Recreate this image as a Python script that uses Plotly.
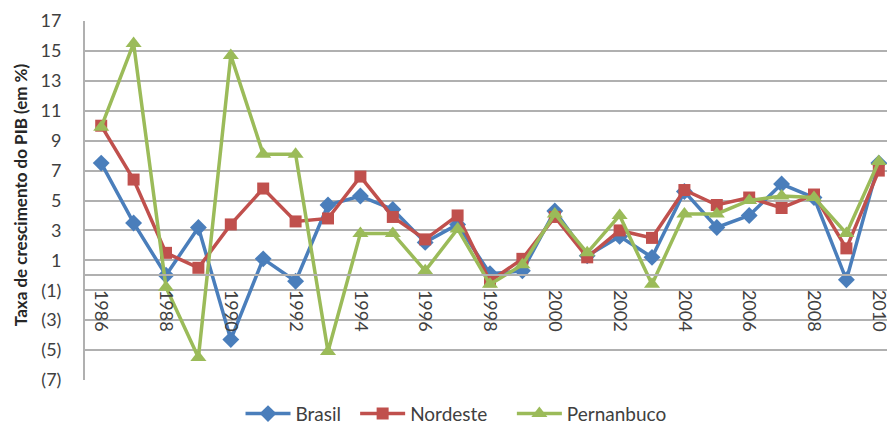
import plotly.graph_objects as go

years = [str(y) for y in range(1986, 2011)]
brasil = [7.5, 3.5, 0.0, 3.2, -4.3, 1.1, -0.4, 4.7, 5.3, 4.4, 2.2, 3.4, 0.1, 0.3, 4.3,
          1.3, 2.6, 1.2, 5.6, 3.2, 4.0, 6.1, 5.2, -0.3, 7.5]
nordeste = [10.0, 6.4, 1.5, 0.5, 3.4, 5.8, 3.6, 3.8, 6.6, 3.9, 2.4, 4.0, -0.4, 1.1, 3.9,
            1.2, 3.0, 2.5, 5.7, 4.7, 5.2, 4.5, 5.4, 1.8, 7.0]
pernanbuco = [9.9, 15.5, -0.8, -5.5, 14.7, 8.1, 8.1, -5.1, 2.8, 2.8, 0.3, 3.1, -0.6, 0.7, 4.1,
              1.5, 4.0, -0.6, 4.1, 4.1, 5.0, 5.3, 5.2, 2.8, 7.6]

y_ticks = [17, 15, 13, 11, 9, 7, 5, 3, 1, -1, -3, -5, -7]
y_labels = ["17", "15", "13", "11", "9", "7", "5", "3", "1", "(1)", "(3)", "(5)", "(7)"]
x_ticks = [str(y) for y in range(1986, 2011, 2)]

FONT = "Lato, 'Open Sans', sans-serif"
GRID = "#b0b0b0"
TXT = "#404040"

fig = go.Figure()
fig.add_trace(go.Scatter(x=years, y=brasil, name="Brasil", mode="lines+markers",
                         line=dict(color="#4A7EBB", width=3.5), legend="legend",
                         marker=dict(symbol="diamond", size=13, color="#4A7EBB")))
fig.add_trace(go.Scatter(x=years, y=nordeste, name="Nordeste", mode="lines+markers",
                         line=dict(color="#C0504D", width=3.5), legend="legend2",
                         marker=dict(symbol="square", size=12, color="#C0504D")))
fig.add_trace(go.Scatter(x=years, y=pernanbuco, name="Pernanbuco", mode="lines+markers",
                         line=dict(color="#9BBB59", width=3.5), legend="legend3",
                         marker=dict(symbol="triangle-up", size=14, color="#9BBB59")))

def leg(x):
    return dict(orientation="h", x=x, xanchor="left", y=-0.094, yanchor="middle",
                font=dict(family=FONT, size=19, color=TXT), itemwidth=45,
                bgcolor="rgba(0,0,0,0)")

fig.update_layout(
    width=887, height=425,
    margin=dict(l=77, r=0, t=13, b=50),
    paper_bgcolor="white", plot_bgcolor="white",
    font=dict(family=FONT, size=18, color=TXT),
    showlegend=True,
    legend=leg(0.192), legend2=leg(0.3335), legend3=leg(0.527),
    xaxis=dict(type="category", range=[-0.5, 24.5], tickmode="array", tickvals=x_ticks,
               ticktext=x_ticks, tickangle=90, anchor="free", position=7 / 24,
               showline=True, linecolor=GRID, linewidth=2, showgrid=False, ticks="",
               automargin=False, ticklabelstandoff=10,
               tickfont=dict(family=FONT, size=18, color=TXT)),
    yaxis=dict(range=[-7, 17], tickmode="array", tickvals=y_ticks, ticktext=y_labels,
               showgrid=True, gridcolor=GRID, gridwidth=2, zeroline=False,
               showline=True, linecolor=GRID, linewidth=2, ticks="", automargin=False,
               ticklabelstandoff=18,
               tickfont=dict(family=FONT, size=18, color=TXT)),
    annotations=[dict(text="<b>Taxa de crescimento do PIB (em %)</b>", xref="paper", yref="paper",
                      x=-0.0802, y=0.515, textangle=-90, showarrow=False,
                      xanchor="center", yanchor="middle",
                      font=dict(family=FONT, size=17, color="#262626"))],
)

fig.write_html("out.html")
